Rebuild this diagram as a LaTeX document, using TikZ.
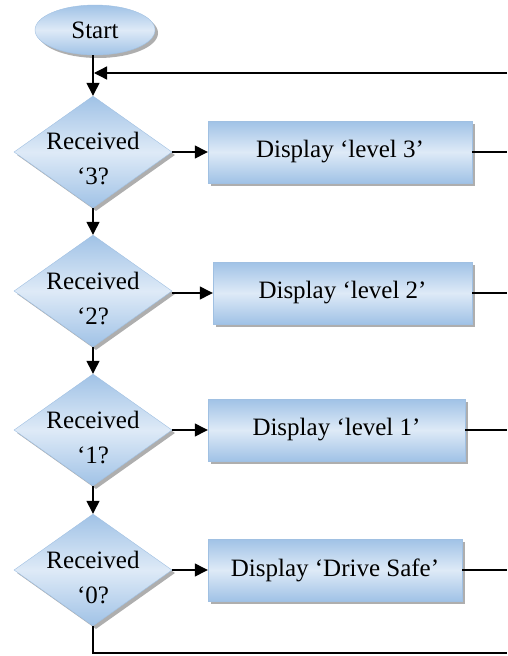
\documentclass[tikz,border=0pt]{standalone}
\usepackage{fontspec}
\setmainfont{Liberation Serif}
\usetikzlibrary{shapes.geometric,arrows.meta,shadows}
\definecolor{edgeblue}{RGB}{160,192,226}
\definecolor{darkblue}{RGB}{160,194,230}
\definecolor{lightblue}{RGB}{222,234,247}
\begin{document}
\begin{tikzpicture}[x=1pt,y=-1pt,
  base/.style={draw=edgeblue, line width=0.4pt, top color=darkblue, bottom color=darkblue, middle color=lightblue,
    drop shadow={shadow xshift=3pt, shadow yshift=-3pt, fill=black!45, opacity=0.7},
    font=\fontsize{25}{35}\selectfont, text=black},
  startbox/.style={base, ellipse, minimum width=120pt, minimum height=50pt, inner sep=0pt},
  decision/.style={base, diamond, minimum width=158pt, minimum height=112pt, inner sep=0pt},
  dispbox/.style={base, rectangle, minimum height=62pt, inner sep=0pt},
  flow/.style={line width=1.3pt, draw=black},
  arr/.style={flow, -{Triangle[length=13pt,width=13pt]}},
  dtext/.style={font=\fontsize{25}{35}\selectfont, align=center}
]
\useasboundingbox (0,0) rectangle (507,656);

\node[startbox] (start) at (95,30) {Start};

\node[decision] (d1) at (93,152) {};
\node[decision] (d2) at (93,291) {};
\node[decision] (d3) at (93,430) {};
\node[decision] (d4) at (93,570) {};

\node[dtext] (t1) at (93,159) {Received\\‘3?};
\node[dtext] (t2) at (93,298) {Received\\‘2?};
\node[dtext] (t3) at (93,437) {Received\\‘1?};
\node[dtext] (t4) at (93,577) {Received\\‘0?};

\node[dispbox, minimum width=264pt] (b1) at (340,152) {Display ‘level 3’};
\node[dispbox, minimum width=259pt] (b2) at (342.5,293) {Display ‘level 2’};
\node[dispbox, minimum width=257pt] (b3) at (336.5,430) {Display ‘level 1’};
\node[dispbox, minimum width=254pt] (b4) at (335,570) {Display ‘Drive Safe’};

\coordinate (ret) at (507,73);
\coordinate (join) at (94,73);
\coordinate (r1) at (507,152);
\coordinate (r2) at (507,293);
\coordinate (r3) at (507,430);
\coordinate (r4) at (507,570);
\coordinate (low) at (93,653);
\coordinate (lowr) at (507,653);

\draw[arr] (start.south -| d1.north) -- (d1.north);
\draw[arr] (ret) -- (join);
\draw[arr] (d1.south) -- (d2.north);
\draw[arr] (d2.south) -- (d3.north);
\draw[arr] (d3.south) -- (d4.north);

\draw[arr] (b1.west -| d1.east) -- (b1.west);
\draw[arr] (b2.west -| d2.east) -- (b2.west);
\draw[arr] (b3.west -| d3.east) -- (b3.west);
\draw[arr] (b4.west -| d4.east) -- (b4.west);

\draw[flow] (b1.east) -- (r1);
\draw[flow] (b2.east) -- (r2);
\draw[flow] (b3.east) -- (r3);
\draw[flow] (b4.east) -- (r4);

\draw[flow] (d4.south) -- (low) -- (lowr);
\end{tikzpicture}
\end{document}
